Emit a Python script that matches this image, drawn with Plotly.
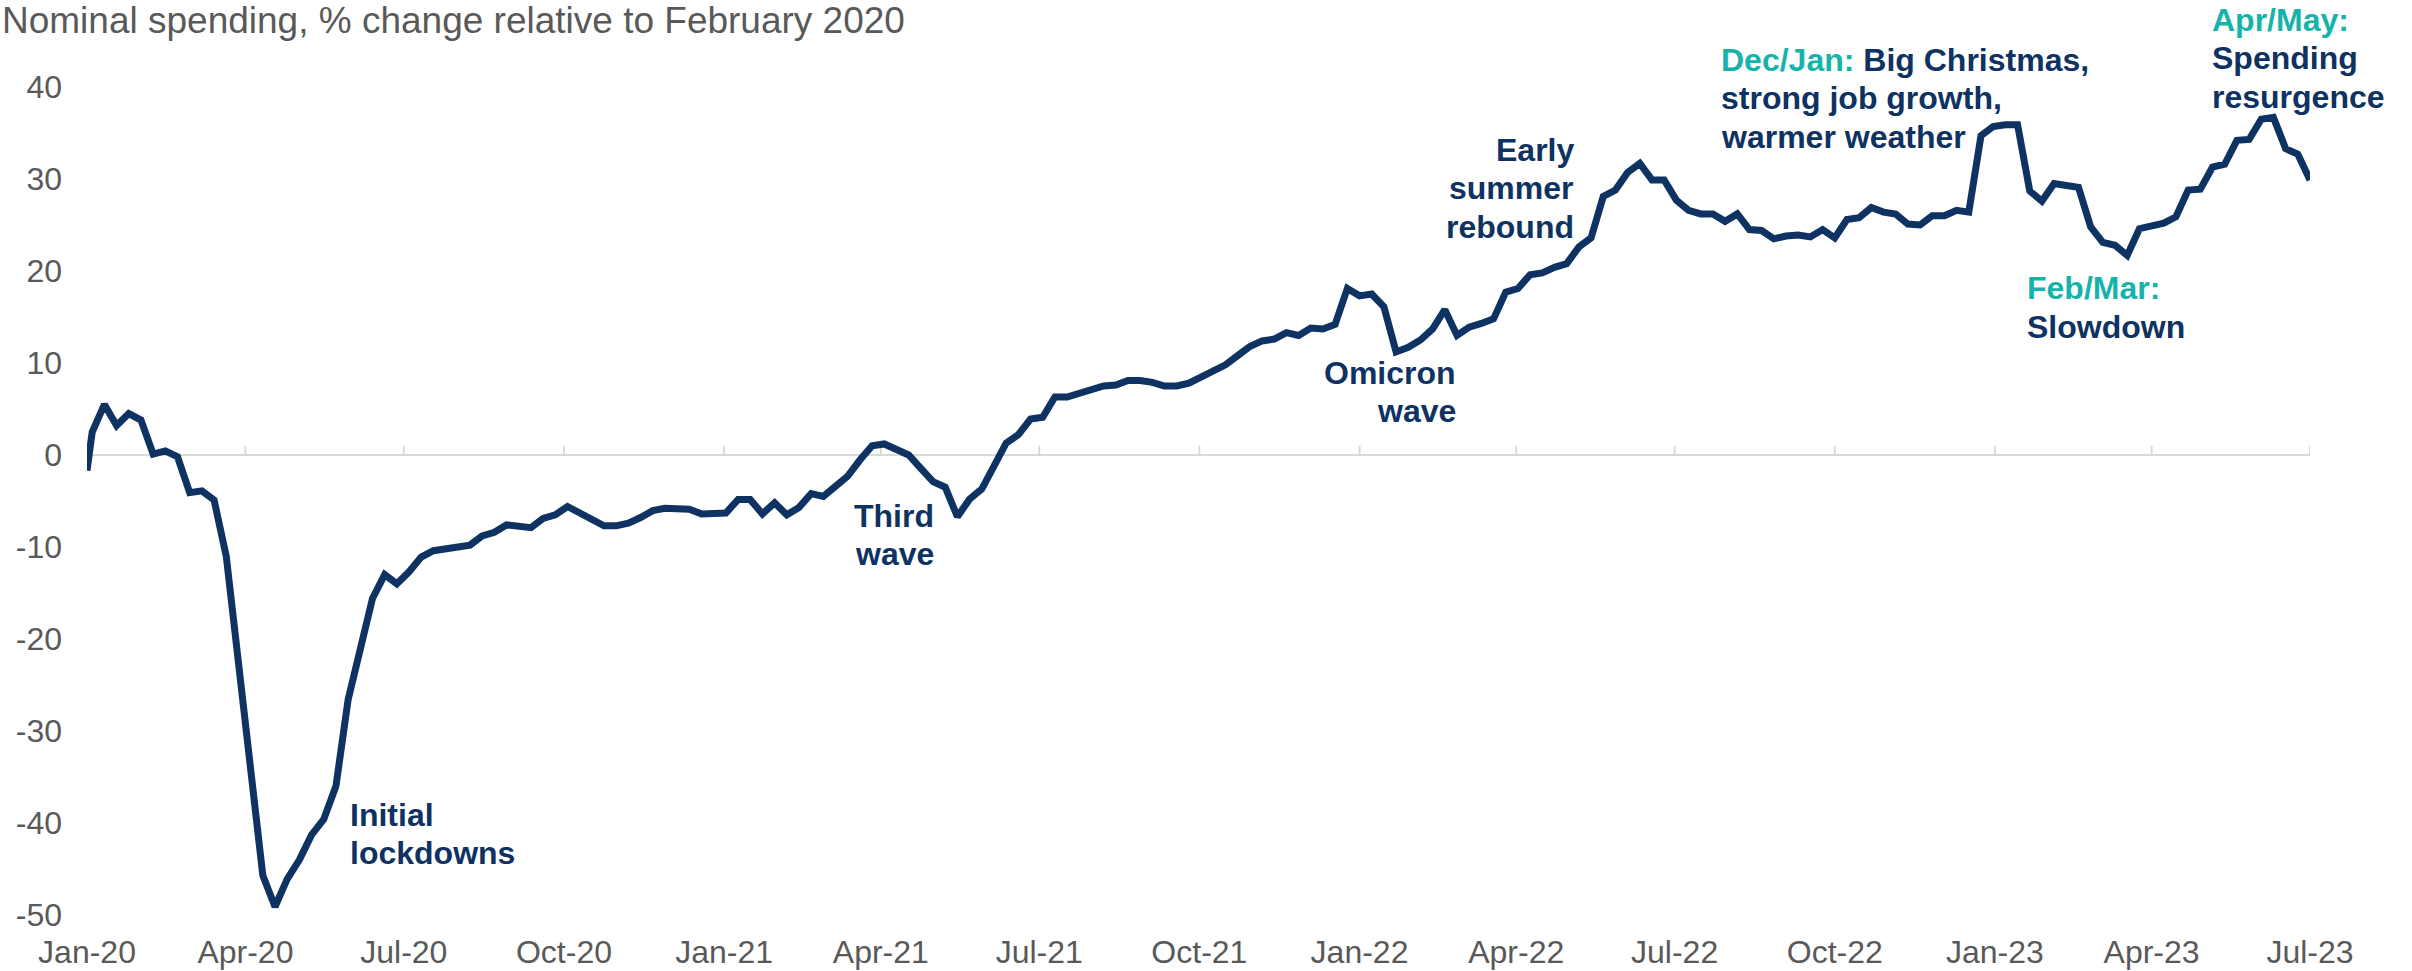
import pandas as pd
import plotly.graph_objects as go

# ---------------- data ----------------
week_dates = [pd.Timestamp("2020-01-01")] + list(pd.date_range("2020-01-04", periods=183, freq="7D"))

spending = [
    -1.7,
    2.5, 5.5, 3.2, 4.5, 3.8, 0.1, 0.45, -0.2, -4.1, -3.9,
    -4.9, -11.0, -22.5, -34.0, -45.7, -49.1, -46.1, -44.0, -41.3, -39.6,
    -36.0, -26.6, -20.9, -15.6, -13.0, -14.0, -12.7, -11.1, -10.4, -10.2,
    -10.0, -9.8, -8.8, -8.4, -7.6, -7.8, -7.9, -6.9, -6.5, -5.6,
    -6.3, -7.0, -7.7, -7.7, -7.4, -6.8, -6.05, -5.8, -5.8, -5.9,
    -6.4, -6.4, -6.3, -4.85, -4.85, -6.4, -5.2, -6.5, -5.7, -4.2,
    -4.5, -3.4, -2.3, -0.55, 1.0, 1.2, 0.5, 0.0, -1.45, -2.9,
    -3.5, -6.7, -4.8, -3.7, -1.2, 1.3, 2.2, 3.9, 4.1, 6.3,
    6.3, 6.7, 7.2, 7.5, 7.6, 8.1, 8.1, 7.9, 7.5, 7.5,
    7.8, 8.4, 9.2, 9.8, 10.8, 11.8, 12.4, 12.6, 13.3, 13.0,
    13.8, 13.7, 14.2, 18.1, 17.3, 17.5, 16.1, 11.2, 11.7, 12.5,
    13.7, 15.8, 13.0, 13.9, 14.3, 14.8, 17.7, 18.1, 19.6, 19.8,
    20.4, 20.8, 22.6, 23.6, 28.1, 28.8, 30.7, 31.7, 29.9, 29.9,
    27.7, 26.6, 26.2, 26.2, 25.4, 26.2, 24.5, 24.4, 23.5, 23.8,
    23.9, 23.7, 24.5, 23.6, 25.6, 25.8, 26.9, 26.4, 26.2, 25.1,
    25.0, 26.0, 26.0, 26.6, 26.4, 34.7, 35.7, 35.9, 35.9, 28.7,
    27.6, 29.5, 29.3, 29.1, 24.8, 23.1, 22.8, 21.7, 24.6, 24.9,
    25.2, 25.9, 28.8, 28.9, 31.3, 31.6, 34.2, 34.3, 36.5, 36.7,
    33.3, 32.7, 29.9,
]

tick_dates = list(pd.date_range("2020-01-01", "2023-07-01", freq="QS"))
tick_labels = [d.strftime("%b-%y") for d in tick_dates]
y_ticks = list(range(-50, 41, 10))
y_labels = [str(v) for v in y_ticks]

title_text = "Nominal spending, % change relative to February 2020"

NAVY = "#0E3262"
TEAL = "#17B3AB"
GRAY = "#595959"
FONT = "Liberation Sans, Arial, sans-serif"

# ---------------- figure ----------------
W, H = 2412, 971
L, R, T, B = 87, 102, 87, 56
PW, PH = W - L - R, H - T - B


def px(xp):
    return (xp - L) / PW


def py(yp):
    return (H - B - yp) / PH


fig = go.Figure()
fig.add_trace(go.Scatter(
    x=week_dates, y=spending, mode="lines",
    line=dict(color=NAVY, width=7),
    hoverinfo="skip", showlegend=False,
))

shapes = []
for d in tick_dates:
    shapes.append(dict(type="line", xref="x", yref="y", x0=d, x1=d, y0=0, y1=1.0,
                       line=dict(color="#D9D9D9", width=2), layer="below"))

ann_lines = [
    ("Initial", 348, 815, "left"),
    ("lockdowns", 348, 853, "left"),
    ("Third", 894, 516, "center"),
    ("wave", 894, 554, "center"),
    ("Omicron", 1458, 373, "right"),
    ("wave", 1458, 411, "right"),
    ("Early", 1576, 150, "right"),
    ("summer", 1576, 188, "right"),
    ("rebound", 1576, 227, "right"),
    (f"<span style='color:{TEAL}'>Dec/Jan:</span> Big Christmas,", 1719, 60, "left"),
    ("strong job growth,", 1719, 98, "left"),
    ("warmer weather", 1719, 137, "left"),
    (f"<span style='color:{TEAL}'>Apr/May:</span>", 2210, 20, "left"),
    ("Spending", 2210, 58, "left"),
    ("resurgence", 2210, 97, "left"),
    (f"<span style='color:{TEAL}'>Feb/Mar:</span>", 2025, 288, "left"),
    ("Slowdown", 2025, 327, "left"),
]
annotations = []
for text, xx, yy, anc in ann_lines:
    annotations.append(dict(
        text=f"<b>{text}</b>", xref="paper", yref="paper", x=px(xx), y=py(yy),
        xanchor=anc, yanchor="middle", showarrow=False,
        font=dict(family=FONT, size=32, color=NAVY),
    ))
annotations.append(dict(
    text=title_text, xref="paper", yref="paper", x=px(0), y=py(20),
    xanchor="left", yanchor="middle", showarrow=False,
    font=dict(family=FONT, size=37, color=GRAY),
))

fig.update_layout(
    width=W, height=H,
    margin=dict(l=L, r=R, t=T, b=B),
    paper_bgcolor="white", plot_bgcolor="white",
    font=dict(family=FONT, size=32, color=GRAY),
    shapes=shapes, annotations=annotations,
    showlegend=False,
)
fig.update_xaxes(
    type="date", range=[tick_dates[0], tick_dates[-1]],
    tickmode="array", tickvals=tick_dates, ticktext=tick_labels,
    showgrid=False, showline=False, zeroline=False, ticks="",
    tickfont=dict(family=FONT, size=32, color=GRAY), ticklabelstandoff=15,
    automargin=False,
)
fig.update_yaxes(
    range=[-50, 40], tickmode="array", tickvals=y_ticks, ticktext=y_labels,
    showgrid=False, showline=False, ticks="",
    zeroline=True, zerolinecolor="#D9D9D9", zerolinewidth=2,
    tickfont=dict(family=FONT, size=32, color=GRAY), ticklabelstandoff=24,
    automargin=False,
)

fig.write_html("out.html", config={"displayModeBar": False},
               post_script="document.body.style.margin='0';")
